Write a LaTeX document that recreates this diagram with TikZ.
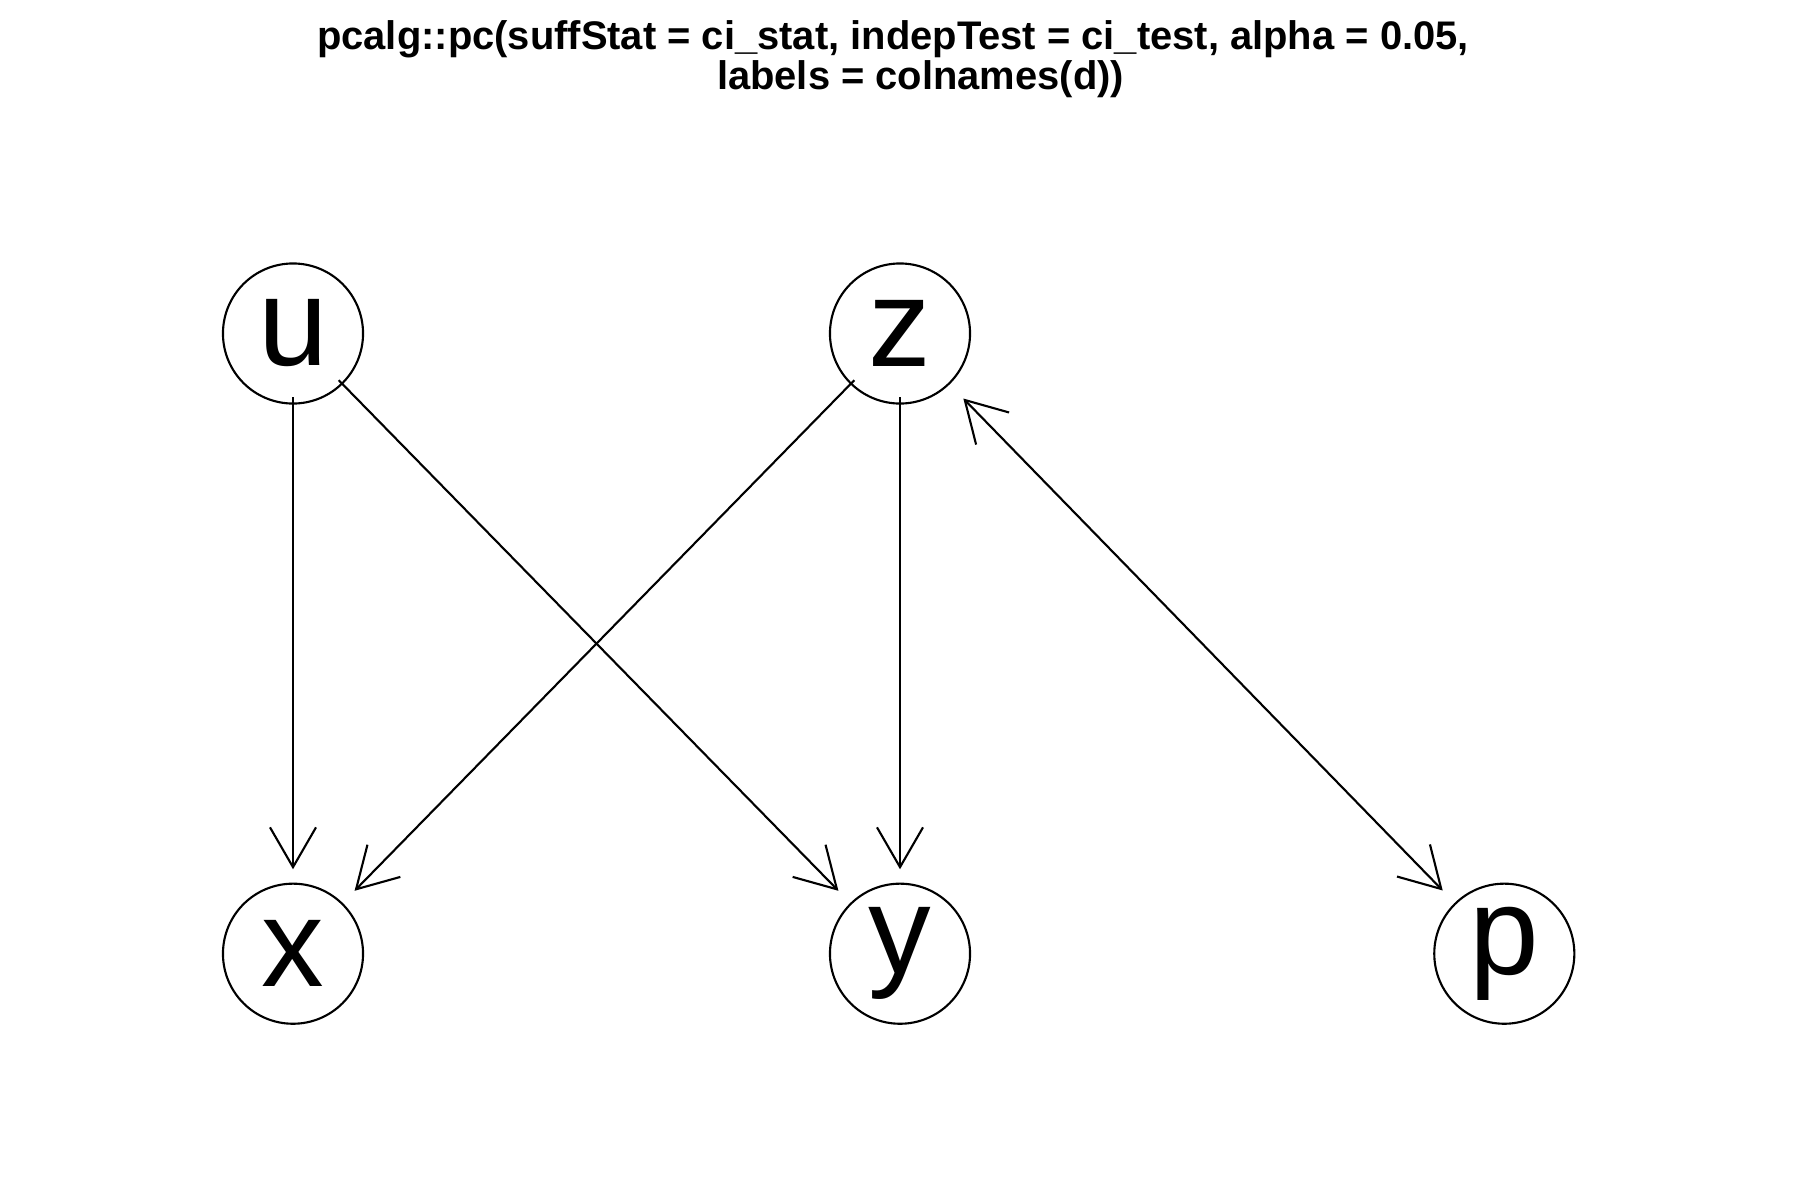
\documentclass[tikz,border=0pt]{standalone}
\usepackage{fontspec}
\setmainfont{Liberation Sans}
\usetikzlibrary{arrows.meta}
\begin{document}
\begin{tikzpicture}[x=0.01cm,y=-0.01cm,
  vertex/.style={circle,draw,line width=0.6pt,minimum size=1.4cm,inner sep=0pt,outer sep=0pt,
    font=\fontsize{35.6pt}{36pt}\selectfont},
  tip/.tip={Straight Barb[length=0.398cm,width=0.46cm]},
  edge/.style={line width=0.6pt,-tip},
  vedge/.style={edge,shorten <=-0.065cm,shorten >=0.144cm},
  dedge/.style={edge,shorten <=-0.047cm,shorten >=0.18cm},
  bedge/.style={line width=0.6pt,tip-tip,shorten <=0.207cm,shorten >=0.182cm},
  titlefont/.style={font=\fontsize{11.35pt}{13pt}\selectfont\bfseries,inner sep=0pt,anchor=base}]
  \useasboundingbox (0,0) rectangle (1800,1200);
  % title, two lines
  \node[titlefont] (t1) at (893,49.4) {pcalg::pc(suffStat = ci\_stat, indepTest = ci\_test, alpha = 0.05,};
  \node[titlefont] (t2) at (920.6,89.5) {labels = colnames(d))};
  % vertices
  \node[vertex] (u) at (293,333.5) {u};
  \node[vertex] (z) at (900,333.5) {z};
  \node[vertex] (x) at (293,953.7) {x};
  \node[vertex] (y) at (900,953.7) {y};
  \node[vertex] (p) at (1504.3,953.7) {p};
  % edges
  \draw[vedge] (u) -- (x);
  \draw[vedge] (z) -- (y);
  \draw[dedge] (u) -- (y);
  \draw[dedge] (z) -- (x);
  \draw[bedge] (z) -- (p);
\end{tikzpicture}
\end{document}
